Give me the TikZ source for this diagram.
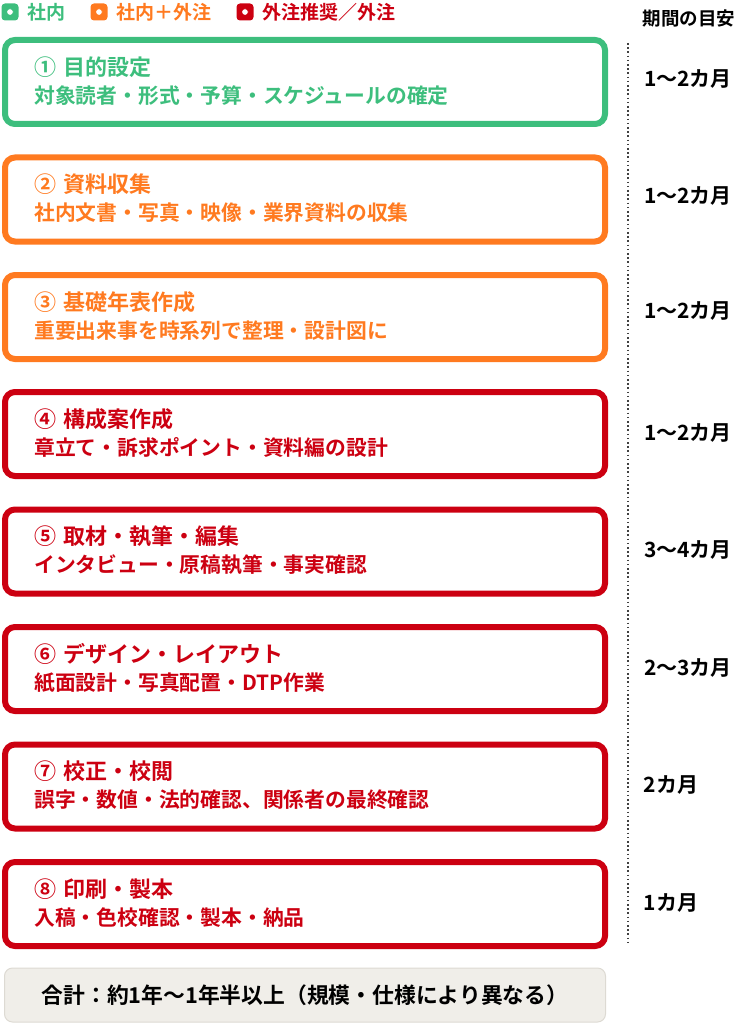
\documentclass[tikz,border=0pt]{standalone}
\usepackage{fontspec}
\setmainfont{Noto Sans CJK JP}[BoldFont={Noto Sans CJK JP Bold}]
\usepackage{tikz}
\usetikzlibrary{calc,positioning}
\definecolor{ingreen}{RGB}{61,190,125}
\definecolor{mixorange}{RGB}{255,122,32}
\definecolor{outred}{RGB}{204,0,17}
\definecolor{sumfill}{RGB}{240,238,233}
\definecolor{sumline}{RGB}{221,218,211}

\begin{document}
\begin{tikzpicture}[x=1pt,y=-1pt,
  box/.style={draw=#1,line width=6pt,rounded corners=10pt,minimum width=600pt,minimum height=84pt,inner sep=0pt},
  ttl/.style={text=#1,anchor=west,inner sep=0pt,font=\bfseries\fontsize{22pt}{25pt}\selectfont},
  sub/.style={text=#1,anchor=west,inner sep=0pt,font=\bfseries\fontsize{20.8pt}{24pt}\selectfont},
  dur/.style={inner sep=0pt,font=\bfseries\fontsize{21pt}{24pt}\selectfont},
  keybox/.style={fill=#1,rounded corners=3.5pt,minimum width=17pt,minimum height=17pt,inner sep=0pt,path picture={\fill[white] ($(path picture bounding box.center)+(-3pt,-3pt)$) rectangle ($(path picture bounding box.center)+(3pt,3pt)$);}},
  keytxt/.style={text=#1,anchor=west,inner sep=0pt,font=\bfseries\fontsize{19pt}{22pt}\selectfont}]
                                \useasboundingbox (0,0) rectangle (740,1024);
                                % legend
                                \node[keybox=ingreen] (k1) at (10,12) {};
                                \node[keytxt=ingreen,right=9pt of k1] (l1) {社内};
                                \node[keybox=mixorange] (k2) at (99,12) {};
                                \node[keytxt=mixorange,right=9pt of k2] (l2) {社内＋外注};
                                \node[keybox=outred] (k3) at (245,12) {};
                                \node[keytxt=outred,right=9pt of k3] (l3) {外注推奨／外注};
                                \node[dur,font=\bfseries\fontsize{18.5pt}{22pt}\selectfont] (hd) at (689,18) {期間の目安};

                                % steps
                                \node[box=ingreen] (b1) at (305,82) {};
                                \node[ttl=ingreen] (t1) at (34,67) {①\hspace{2pt} 目的設定};
                                \node[sub=ingreen] (s1) at (34,95.5) {対象読者・形式・予算・スケジュールの確定};
                                \node[dur] (d1) at (688,79) {1〜2カ月};

                                \node[box=mixorange] (b2) at (305,199.5) {};
                                \node[ttl=mixorange] (t2) at (34,184.5) {②\hspace{2pt} 資料収集};
                                \node[sub=mixorange] (s2) at (34,213) {社内文書・写真・映像・業界資料の収集};
                                \node[dur] (d2) at (688,196) {1〜2カ月};

                                \node[box=mixorange] (b3) at (305,317) {};
                                \node[ttl=mixorange] (t3) at (34,302) {③\hspace{2pt} 基礎年表作成};
                                \node[sub=mixorange] (s3) at (34,330.5) {重要出来事を時系列で整理・設計図に};
                                \node[dur] (d3) at (688,311) {1〜2カ月};

                                \node[box=outred] (b4) at (305,434) {};
                                \node[ttl=outred] (t4) at (34,419) {④\hspace{2pt} 構成案作成};
                                \node[sub=outred] (s4) at (34,447.5) {章立て・訴求ポイント・資料編の設計};
                                \node[dur] (d4) at (688,433) {1〜2カ月};

                                \node[box=outred] (b5) at (305,551.5) {};
                                \node[ttl=outred] (t5) at (34,536.5) {⑤\hspace{2pt} 取材・執筆・編集};
                                \node[sub=outred] (s5) at (34,565) {インタビュー・原稿執筆・事実確認};
                                \node[dur] (d5) at (688,550) {3〜4カ月};

                                \node[box=outred] (b6) at (305,669) {};
                                \node[ttl=outred] (t6) at (34,654) {⑥\hspace{2pt} デザイン・レイアウト};
                                \node[sub=outred] (s6) at (34,682.5) {紙面設計・写真配置・DTP作業};
                                \node[dur] (d6) at (688,668) {2〜3カ月};

                                \node[box=outred] (b7) at (305,786.5) {};
                                \node[ttl=outred] (t7) at (34,771.5) {⑦\hspace{2pt} 校正・校閲};
                                \node[sub=outred] (s7) at (34,800) {誤字・数値・法的確認、関係者の最終確認};
                                \node[dur] (d7) at (671,785) {2カ月};

                                \node[box=outred] (b8) at (305,904) {};
                                \node[ttl=outred] (t8) at (34,889) {⑧\hspace{2pt} 印刷・製本};
                                \node[sub=outred] (s8) at (34,917.5) {入稿・色校確認・製本・納品};
                                \node[dur] (d8) at (671,903) {1カ月};

                                % time axis
                                \coordinate (ax1) at (628,43);
                                \coordinate (ax2) at (628,943);
                                \draw[black!75,line width=1.4pt,dash pattern=on 1.6pt off 2.6pt] (ax1) -- (ax2);

                                % total
                                \node[draw=sumline,fill=sumfill,line width=1pt,rounded corners=8pt,minimum width=601pt,minimum height=54pt,font=\bfseries\fontsize{21.8pt}{24pt}\selectfont] (tot) at (305,995) {合計：約1年〜1年半以上（規模・仕様により異なる）};
                            \end{tikzpicture}
\end{document}
